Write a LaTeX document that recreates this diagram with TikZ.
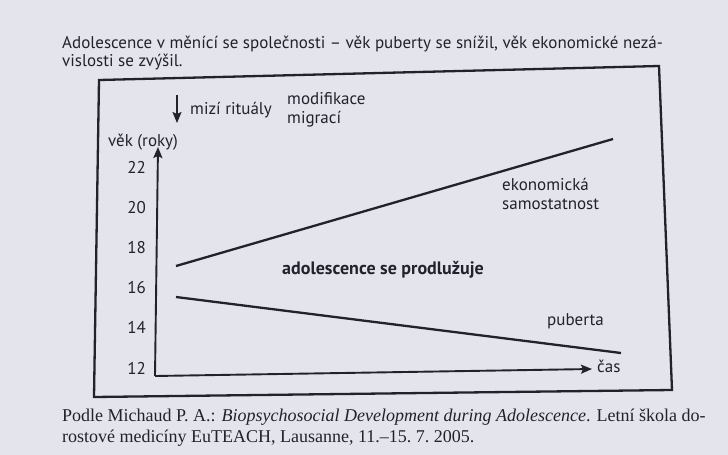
\documentclass[tikz,border=0pt]{standalone}
\usepackage{fontspec}
\setmainfont{Liberation Serif}
\newfontfamily\diagfont{PT Sans}
\usetikzlibrary{arrows.meta}
\definecolor{ink}{HTML}{22222C}
\definecolor{paper}{HTML}{E3E4EC}

\begin{document}
\begin{tikzpicture}[x=1pt, y=-1pt,
    every node/.style={inner sep=0pt, text=ink, font=\diagfont\fontsize{17}{19}\selectfont},
    frame/.style={draw=ink, line width=2.3pt, line join=miter},
    axis/.style={draw=ink, line width=1.9pt, -{Stealth[length=11pt, width=9pt, inset=2pt]}},
    trend/.style={draw=ink, line width=2.3pt},
    headline/.style={anchor=base west, font=\diagfont\fontsize{17}{18}\selectfont},
    source/.style={anchor=base west, font=\rmfamily\fontsize{18}{20}\selectfont}]
  % Background
  \fill[paper] (0,0) rectangle (728,455);
  \useasboundingbox (0,0) rectangle (728,455);

  % Headline
  \node[headline] (title1) at (62,48) {Adolescence v měnící se společnosti – věk puberty se snížil, věk ekonomické nezá-};
  \node[headline] (title2) at (62,66) {vislosti se zvýšil.};

  % Frame
  \coordinate (tl) at (99,80);
  \coordinate (tr) at (659,66);
  \coordinate (br) at (672,390);
  \coordinate (bl) at (94,397);
  \draw[frame] (tl) -- (tr) -- (br) -- (bl) -- cycle;

  % Axes
  \coordinate (origin) at (155,376);
  \coordinate (ytop) at (158,147);
  \coordinate (xend) at (592,369);
  \draw[axis] (origin) -- (ytop);
  \draw[axis] (origin) -- (xend);
  \node (agelabel) at (143,142) {věk (roky)};
  \node[anchor=west] (timelabel) at (597,366) {čas};
  \foreach \age [count=\i from 0] in {12,14,16,18,20,22}
    \node[anchor=east] (age\age) at (146,368-40.2*\i) {\age};

  % Rituals and migration
  \coordinate (ritualtop) at (177,95);
  \coordinate (ritualbottom) at (177,123);
  \draw[axis, line width=1.6pt] (ritualtop) -- (ritualbottom);
  \node[anchor=west] (rituals) at (190,110) {mizí rituály};
  \node[anchor=west, align=left] (migration) at (287,110) {modifikace\\migrací};

  % Trend lines
  \coordinate (econstart) at (176,266);
  \coordinate (econend) at (613,139);
  \coordinate (pubstart) at (176,297);
  \coordinate (pubend) at (621,353);
  \draw[trend] (econstart) -- (econend);
  \draw[trend] (pubstart) -- (pubend);
  \node[anchor=west, align=left] (econ) at (502,194) {ekonomická\\samostatnost};
  \node[anchor=west] (puberty) at (547,321) {puberta};
  \node[font=\diagfont\bfseries\fontsize{18}{19}\selectfont] (adolescence) at (383,270) {adolescence se prodlužuje};

  % Source
  \node[source] (source1) at (62,421) {Podle Michaud P. A.: \textit{Biopsychosocial Development during Adolescence}. Letní škola do-};
  \node[source] (source2) at (62,442) {rostové medicíny EuTEACH, Lausanne, 11.–15.~7.~2005.};
\end{tikzpicture}
\end{document}
